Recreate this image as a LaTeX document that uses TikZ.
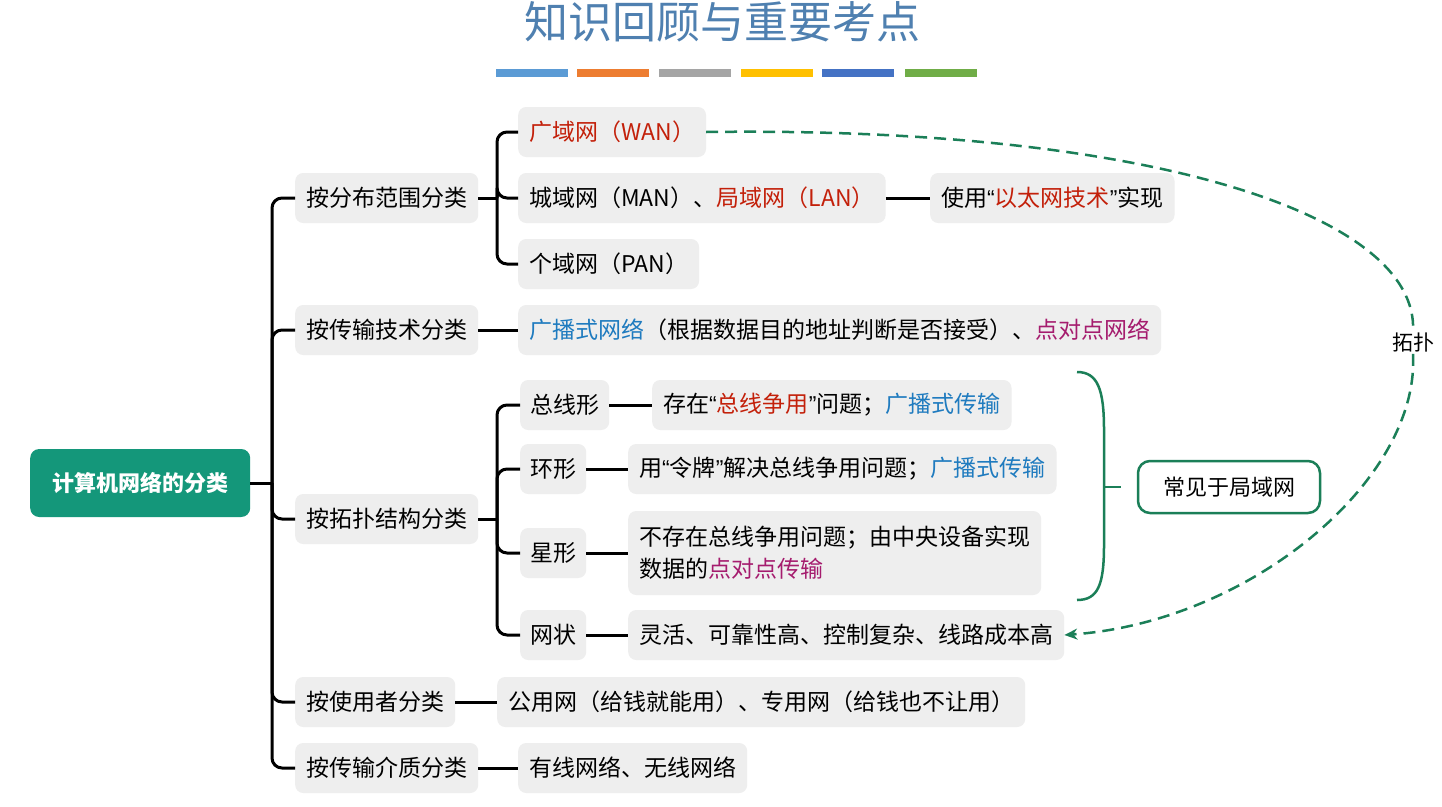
\documentclass[tikz,border=0pt]{standalone}
\usepackage{fontspec}
\setmainfont{Noto Sans CJK SC}
\newfontfamily\qfont{Liberation Sans}
\usetikzlibrary{arrows.meta}
\definecolor{boxgray}{HTML}{EEEEEE}
\definecolor{rootgreen}{HTML}{14977A}
\definecolor{linkgreen}{HTML}{1B7F58}
\definecolor{cred}{HTML}{C3200A}
\definecolor{cblue}{HTML}{1F7BBF}
\definecolor{cmag}{HTML}{A51C6E}
\definecolor{titleblue}{HTML}{4F80B0}
\definecolor{barA}{HTML}{5B9BD5}
\definecolor{barB}{HTML}{ED7D31}
\definecolor{barC}{HTML}{A5A5A5}
\definecolor{barD}{HTML}{FFC000}
\definecolor{barE}{HTML}{4472C4}
\definecolor{barF}{HTML}{70AD47}
\newcommand\tred[1]{\textcolor{cred}{#1}}
\newcommand\tblue[1]{\textcolor{cblue}{#1}}
\newcommand\tmag[1]{\textcolor{cmag}{#1}}
\newcommand\myoq{{\qfont“}}
\newcommand\mycq{{\qfont”}}
\begin{document}
\begin{tikzpicture}[x=1pt,y=-1pt,
  lbox/.style={fill=boxgray, rounded corners=8pt, inner xsep=11pt, inner ysep=0pt,
    minimum height=50pt, anchor=west, text=black, font=\fontsize{23}{32}\selectfont},
  conn/.style={line width=3pt, black},
  brk/.style={line width=3pt, black, rounded corners=10pt},
  gline/.style={line width=2.5pt, linkgreen},
  bar/.style={minimum width=72pt, minimum height=8pt, inner sep=0pt}]
\useasboundingbox (0,0) rectangle (1442,806);
\fill[white] (0,0) rectangle (1442,806);

% title
\node[text=titleblue, font=\fontsize{44}{48}\selectfont] (title) at (722,22) {知识回顾与重要考点};
\node[bar, fill=barA] (bar1) at (532,73) {};
\node[bar, fill=barB] (bar2) at (613,73) {};
\node[bar, fill=barC] (bar3) at (695,73) {};
\node[bar, fill=barD] (bar4) at (777,73) {};
\node[bar, fill=barE] (bar5) at (858,73) {};
\node[bar, fill=barF] (bar6) at (941,73) {};

% root
\node[fill=rootgreen, rounded corners=9pt, minimum width=220pt, minimum height=68pt,
  anchor=west, text=white, font=\fontsize{22}{26}\selectfont\bfseries] (root) at (30,483) {计算机网络的分类};

% level 1
\node[lbox] (l1) at (295,198) {按分布范围分类};
\node[lbox] (l2) at (295,330) {按传输技术分类};
\node[lbox] (l3) at (295,519) {按拓扑结构分类};
\node[lbox] (l4) at (295,702) {按使用者分类};
\node[lbox] (l5) at (295,768) {按传输介质分类};

\coordinate (t) at (272,483);
\draw[conn] (root.east) -- (t);
\foreach \n in {l1,l2,l3,l4,l5}{\draw[brk] (t) |- (\n.west);}

% group 1
\node[lbox] (wan) at (518,132) {\tred{广域网（WAN）}};
\node[lbox] (man) at (518,198) {城域网（MAN）、\tred{局域网（LAN）}};
\node[lbox] (pan) at (518,264) {个域网（PAN）};
\node[lbox] (eth) at (930,198) {使用\myoq\tred{以太网技术}\mycq 实现};
\coordinate (b1) at (497,198);
\draw[conn] (l1.east) -- (b1);
\foreach \n in {wan,man,pan}{\draw[brk] (b1) |- (\n.west);}
\draw[conn] (man.east) -- (eth.west);

% group 2
\node[lbox] (bc) at (518,330) {\tblue{广播式网络}（根据数据目的地址判断是否接受）、\tmag{点对点网络}};
\draw[conn] (l2.east) -- (bc.west);

% group 3
\node[lbox, inner xsep=10pt] (bus) at (520,405) {总线形};
\node[lbox, inner xsep=10pt] (ring) at (520,469) {环形};
\node[lbox, inner xsep=10pt] (star) at (520,553) {星形};
\node[lbox, inner xsep=10pt] (mesh) at (520,635) {网状};
\node[lbox] (busd) at (652,405) {存在\myoq\tred{总线争用}\mycq 问题；\tblue{广播式传输}};
\node[lbox] (ringd) at (628,469) {用\myoq 令牌\mycq 解决总线争用问题；\tblue{广播式传输}};
\node[lbox, align=left, minimum height=84pt] (stard) at (628,553) {不存在总线争用问题；由中央设备实现\\数据的\tmag{点对点传输}};
\node[lbox] (meshd) at (628,635) {灵活、可靠性高、控制复杂、线路成本高};
\coordinate (b3) at (497,519);
\draw[conn] (l3.east) -- (b3);
\foreach \n in {bus,ring,star,mesh}{\draw[brk] (b3) |- (\n.west);}
\draw[conn] (bus.east) -- (busd.west);
\draw[conn] (ring.east) -- (ringd.west);
\draw[conn] (star.east) -- (stard.west);
\draw[conn] (mesh.east) -- (meshd.west);

% group 4, 5
\node[lbox] (pub) at (497,702) {公用网（给钱就能用）、专用网（给钱也不让用）};
\draw[conn] (l4.east) -- (pub.west);
\node[lbox] (wire) at (518,768) {有线网络、无线网络};
\draw[conn] (l5.east) -- (wire.west);

% brace and LAN note
\node[draw=linkgreen, line width=2.5pt, rounded corners=12pt, fill=white,
  minimum width=182pt, minimum height=52pt, font=\fontsize{22}{26}\selectfont] (lan) at (1229,487) {常见于局域网};
\coordinate (brtop) at (1077,372);
\coordinate (brbot) at (1077,600);
\coordinate (brmid) at (1104,487);
\draw[gline] (brtop) .. controls (1098,372) and (1104,390) .. (1104,430) -- (1104,545)
  .. controls (1104,585) and (1098,600) .. (brbot);
\draw[gline] (brmid) -- (1121,487);

% topology dashed arrow
\node[font=\fontsize{21}{24}\selectfont, inner sep=1pt] (topo) at (1413,343) {拓扑};
\draw[gline, dash pattern=on 12pt off 7pt] (wan.east) .. controls (1150,126) and (1420,215) .. (topo.north);
\draw[gline, dash pattern=on 12pt off 7pt, -{Stealth[length=13pt,width=11pt]}]
  (topo.south) .. controls (1420,480) and (1250,622) .. (meshd.east);
\end{tikzpicture}
\end{document}
